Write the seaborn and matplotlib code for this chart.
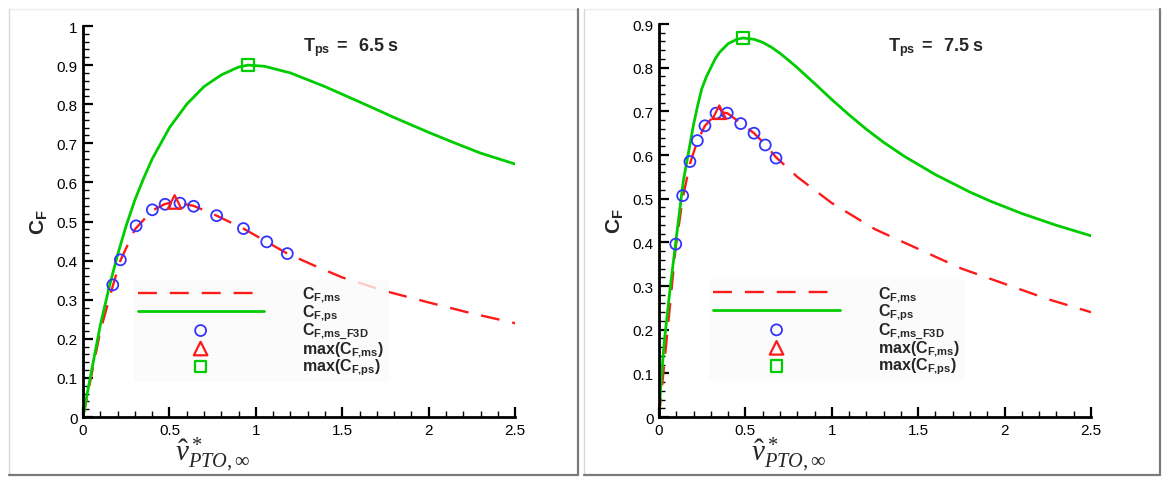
import numpy as np
import matplotlib
matplotlib.use("Agg")
import matplotlib.pyplot as plt
from matplotlib.lines import Line2D
from matplotlib.ticker import MultipleLocator, FuncFormatter
import seaborn as sns

# ---- data ----
# T_ps = 6.5 s
x_ps_65 = [0, 0.02, 0.05, 0.1, 0.15, 0.2, 0.25, 0.3, 0.35, 0.4, 0.45, 0.5, 0.55, 0.6, 0.7, 0.8, 0.9,
           0.955, 1.05, 1.2, 1.4, 1.63, 1.8, 2.0, 2.15, 2.3, 2.5]
y_ps_65 = [0, 0.05, 0.12, 0.235, 0.33, 0.415, 0.49, 0.555, 0.61, 0.66, 0.70, 0.74, 0.77, 0.80, 0.845, 0.875, 0.895,
           0.90, 0.897, 0.88, 0.845, 0.80, 0.766, 0.728, 0.701, 0.675, 0.647]
x_ms_65 = [0, 0.05, 0.1, 0.172, 0.216, 0.3, 0.4, 0.475, 0.53, 0.64, 0.773, 0.928, 1.063, 1.182,
           1.35, 1.5, 1.75, 2.0, 2.25, 2.5]
y_ms_65 = [0, 0.11, 0.22, 0.335, 0.40, 0.48, 0.528, 0.545, 0.55, 0.54, 0.515, 0.482, 0.448, 0.418,
           0.385, 0.357, 0.322, 0.293, 0.265, 0.24]
x_f3d_65 = [0.172, 0.216, 0.307, 0.401, 0.475, 0.561, 0.640, 0.773, 0.928, 1.063, 1.182]
y_f3d_65 = [0.338, 0.402, 0.489, 0.530, 0.544, 0.547, 0.539, 0.515, 0.482, 0.448, 0.418]
max_ms_65 = (0.53, 0.55)
max_ps_65 = (0.955, 0.90)

# T_ps = 7.5 s
x_ps_75 = [0, 0.01, 0.03, 0.064, 0.1, 0.141, 0.175, 0.2, 0.225, 0.247, 0.275, 0.3, 0.325, 0.35, 0.4,
           0.45, 0.486, 0.55, 0.6, 0.65, 0.7, 0.75, 0.8, 0.85, 0.9, 1.0, 1.1, 1.2, 1.3, 1.42, 1.6,
           1.8, 1.92, 2.1, 2.3, 2.5]
y_ps_75 = [0, 0.07, 0.17, 0.293, 0.41, 0.541, 0.615, 0.67, 0.715, 0.751, 0.78, 0.80, 0.82, 0.835, 0.855,
           0.865, 0.868, 0.865, 0.858, 0.847, 0.833, 0.817, 0.80, 0.782, 0.764, 0.727, 0.692, 0.659,
           0.629, 0.597, 0.555, 0.515, 0.494, 0.466, 0.439, 0.415]
x_ms_75 = [0, 0.02, 0.05, 0.097, 0.137, 0.179, 0.222, 0.266, 0.33, 0.35, 0.395, 0.473, 0.55, 0.615,
           0.677, 0.8, 1.0, 1.25, 1.5, 1.75, 2.0, 2.25, 2.5]
y_ms_75 = [0, 0.08, 0.2, 0.39, 0.5, 0.58, 0.632, 0.667, 0.694, 0.698, 0.696, 0.673, 0.65, 0.624,
           0.595, 0.55, 0.49, 0.43, 0.385, 0.34, 0.305, 0.27, 0.24]
x_f3d_75 = [0.097, 0.137, 0.179, 0.222, 0.266, 0.330, 0.395, 0.473, 0.550, 0.615, 0.677]
y_f3d_75 = [0.396, 0.507, 0.585, 0.633, 0.667, 0.696, 0.696, 0.672, 0.650, 0.623, 0.593]
max_ms_75 = (0.349, 0.698)
max_ps_75 = (0.486, 0.868)

panels = [
    ("6.5", x_ps_65, y_ps_65, x_ms_65, y_ms_65, x_f3d_65, y_f3d_65, max_ms_65, max_ps_65, 1.0, (1.27, 0.947)),
    ("7.5", x_ps_75, y_ps_75, x_ms_75, y_ms_75, x_f3d_75, y_f3d_75, max_ms_75, max_ps_75, 0.9, (1.325, 0.849)),
]

sns.set_style("ticks")
plt.rcParams['font.family'] = ['Liberation Sans', 'DejaVu Sans']
plt.rcParams['mathtext.fontset'] = 'custom'
plt.rcParams['mathtext.rm'] = 'Liberation Serif'
plt.rcParams['mathtext.it'] = 'Liberation Serif:italic'
plt.rcParams['mathtext.bf'] = 'Liberation Sans:bold'

fig = plt.figure(figsize=(11.68, 4.85), dpi=100)
fig.patch.set_facecolor('white')

axes_pos = [[0.0711, 0.1381, 0.3699, 0.8062], [0.5642, 0.1381, 0.3699, 0.8103]]

red = '#ff1a1a'
green = '#00cc00'
blue = '#3333ff'

for (tps, xp, yp, xm, ym, xf, yf, mms, mps, ytop, tpos), pos in zip(panels, axes_pos):
    ax = fig.add_axes(pos)
    sns.lineplot(x=xm, y=ym, ax=ax, color=red, lw=1.7, ls=(0, (8, 5.5)), label=r'$\mathbf{C}_{\mathbf{F{,}ms}}$')
    sns.lineplot(x=xp, y=yp, ax=ax, color=green, lw=2.0, label=r'$\mathbf{C}_{\mathbf{F{,}ps}}$')
    sns.scatterplot(x=xf, y=yf, ax=ax, marker='o', s=62, facecolor='none', edgecolor=blue,
                    linewidth=1.3, label=r'$\mathbf{C}_{\mathbf{F{,}ms\_F3D}}$', zorder=4)
    sns.scatterplot(x=[mms[0]], y=[mms[1]], ax=ax, marker='^', s=95, facecolor='none', edgecolor=red,
                    linewidth=1.6, label=r'$\mathbf{max(C}_{\mathbf{F{,}ms}}\mathbf{)}$', zorder=5)
    sns.scatterplot(x=[mps[0]], y=[mps[1]], ax=ax, marker='s', s=70, facecolor='none', edgecolor=green,
                    linewidth=1.6, label=r'$\mathbf{max(C}_{\mathbf{F{,}ps}}\mathbf{)}$', zorder=5)

    ax.set_xlim(0, 2.5)
    ax.set_ylim(0, ytop)
    for s in ['top', 'right']:
        ax.spines[s].set_visible(False)
    for s in ['left', 'bottom']:
        ax.spines[s].set_linewidth(2)
        ax.spines[s].set_color('black')
    ax.xaxis.set_major_locator(MultipleLocator(0.5))
    ax.xaxis.set_minor_locator(MultipleLocator(0.1))
    ax.yaxis.set_major_locator(MultipleLocator(0.1))
    ax.yaxis.set_minor_locator(MultipleLocator(0.02))
    fmt = FuncFormatter(lambda v, p: '%g' % round(v, 2))
    ax.xaxis.set_major_formatter(fmt)
    ax.yaxis.set_major_formatter(fmt)
    ax.tick_params(which='major', direction='in', length=7, width=1.6, labelsize=11, colors='black', pad=4)
    ax.tick_params(which='minor', direction='in', length=4, width=1.0, colors='black')
    ax.set_xlabel(r'$\hat{v}^*_{PTO,\infty}$', fontsize=21)
    ax.xaxis.set_label_coords(0.30, -0.046)
    ax.set_ylabel(r'$\mathbf{C}_{\mathbf{F}}$', fontsize=15, labelpad=5)
    ax.text(tpos[0], tpos[1],
            r'$\mathbf{T}_{\mathbf{ps}}\mathbf{\ =\ \ ' + tps + r'\ s}$',
            fontsize=13, va='center', ha='left')
    leg = ax.legend(loc='upper left', bbox_to_anchor=(0.115, 0.35), fontsize=11.5, frameon=True,
                    handlelength=7.9, handletextpad=2.4, labelspacing=-0.12, borderpad=0.3,
                    borderaxespad=0, markerscale=1.0)
    leg.get_frame().set_facecolor('#fafafa')
    leg.get_frame().set_edgecolor('none')
    ax.set_facecolor('white')

# panel frames
W, H = 1168.0, 485.0
def fline(x0, y0, x1, y1, c, lw):
    fig.add_artist(Line2D([x0 / W, x1 / W], [1 - y0 / H, 1 - y1 / H], color=c, lw=lw,
                          transform=fig.transFigure))

for l, r in [(9, 578), (584, 1160)]:
    fline(l, 10, r, 10, '#ececec', 1)
    fline(l, 10, l, 476, '#d8d8d8', 1)
    fline(r, 10, r, 476, '#7a7a7a', 1.6)
    fline(l, 476, r, 476, '#7a7a7a', 1.6)

fig.savefig('out.png', dpi=100)
